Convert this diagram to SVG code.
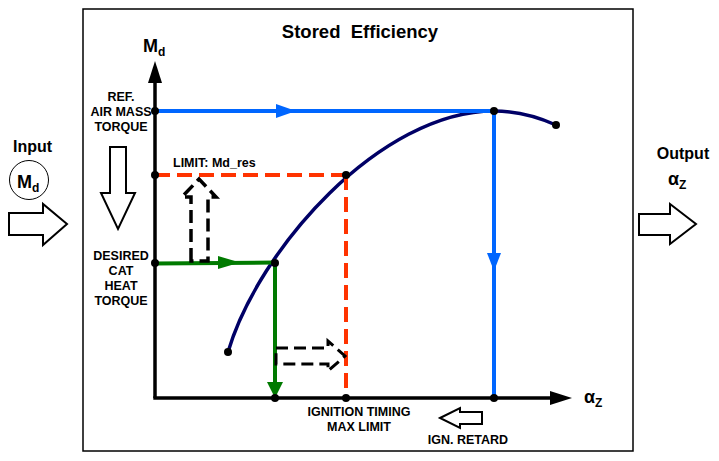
<svg xmlns="http://www.w3.org/2000/svg" width="719" height="461" viewBox="0 0 719 461">
<style>
text{font-family:"Liberation Sans",Arial,sans-serif;font-weight:bold;fill:#000}
.lbl{font-size:12.5px;text-anchor:middle}
.big{font-size:16px}
.hollow{fill:#fff;stroke:#000;stroke-width:2;stroke-linejoin:miter}
.dhollow{fill:none;stroke:#000;stroke-width:3.5;stroke-dasharray:13 6}
.dhollow2{fill:none;stroke:#000;stroke-width:3;stroke-dasharray:12 6}
.dot{fill:#000}
.blue{stroke:#0066ff;stroke-width:4;fill:none}
.green{stroke:#007a00;stroke-width:4;fill:none}
.red{stroke:#ff3300;stroke-width:4;fill:none;stroke-dasharray:15 7}
.axis{stroke:#000;stroke-width:3.5;fill:none}
</style>
<rect width="719" height="461" fill="#fff"/>
<g id="frame">
<rect x="83" y="9" width="550" height="442" fill="none" stroke="#000" stroke-width="1.5"/>
<text x="360" y="38" style="font-size:18.5px;text-anchor:middle" xml:space="preserve">Stored  Efficiency</text>
</g>
<g id="input">
<text x="32.5" y="152" class="big" text-anchor="middle">Input</text>
<circle cx="29" cy="180" r="19.5" fill="#fff" stroke="#000" stroke-width="1"/>
<text x="17" y="188" style="font-size:18px">M<tspan dy="4" style="font-size:12px">d</tspan></text>
<polygon class="hollow" points="9,213 43,213 43,204 67,224 43,245 43,235 9,235"/>
</g>
<g id="output">
<text x="683" y="158.5" class="big" text-anchor="middle">Output</text>
<text x="668" y="185" style="font-size:18px">α<tspan dy="4" style="font-size:12px">Z</tspan></text>
<polygon class="hollow" points="639,214 670,214 670,204 696,224 670,244 670,235 639,235"/>
</g>
<g id="axes">
<line class="axis" x1="155" y1="398" x2="155" y2="80"/>
<polygon points="148,83 155,61 162,83" fill="#000"/>
<line class="axis" x1="153.3" y1="398" x2="552" y2="398"/>
<polygon points="550,391 572,398 550,405" fill="#000"/>
<text x="143" y="52" style="font-size:18px">M<tspan dy="4" style="font-size:12px">d</tspan></text>
<text x="584" y="403" style="font-size:18px">α<tspan dy="4" style="font-size:12px">Z</tspan></text>
</g>
<g id="curve">
<path d="M228,352 C258,250 380,111 494,111 Q525,111 556,125" fill="none" stroke="#000066" stroke-width="3.5"/>
</g>
<g id="connectors">
<line class="red" x1="155" y1="175" x2="346" y2="175"/>
<line class="red" x1="346" y1="175" x2="346" y2="398"/>
<line class="blue" x1="155" y1="111" x2="494" y2="111"/>
<polygon points="276,104 296,111 276,118" fill="#0066ff"/>
<line class="blue" x1="494" y1="111" x2="494" y2="398"/>
<polygon points="487,253 494,271 501,253" fill="#0066ff"/>
<line class="green" x1="155" y1="263.5" x2="275" y2="262.5"/>
<polygon points="218,256 240,262.5 218,269" fill="#007a00"/>
<line class="green" x1="275" y1="263" x2="275" y2="385"/>
<polygon points="267,382 275,398 283,382" fill="#007a00"/>
<polygon class="dhollow" points="191,261 191,197 182,197 199,179 216,197 208,197 208,261"/>
<polygon class="dhollow2" points="276,348 328,348 328,341 345,356 328,371 328,364 276,364"/>
<polygon class="hollow" points="101,193 110,193 110,147 126,147 126,193 135,193 118,229"/>
<polygon class="hollow" points="440,418 460,408 460,412 482,412 482,424 460,424 460,428"/>
</g>
<g id="dots">
<circle class="dot" cx="155" cy="111" r="4"/>
<circle class="dot" cx="494" cy="111" r="4"/>
<circle class="dot" cx="556" cy="125" r="4"/>
<circle class="dot" cx="155" cy="175" r="4"/>
<circle class="dot" cx="346" cy="175" r="4"/>
<circle class="dot" cx="155" cy="263" r="4"/>
<circle class="dot" cx="275" cy="263" r="4"/>
<circle class="dot" cx="228" cy="352" r="4"/>
<circle class="dot" cx="275" cy="398" r="4"/>
<circle class="dot" cx="346" cy="398" r="4"/>
<circle class="dot" cx="494" cy="398" r="4"/>
</g>
<g id="labels">
<text class="lbl" x="121" y="101">REF.</text>
<text class="lbl" x="121" y="115.5">AIR MASS</text>
<text class="lbl" x="121" y="130.5">TORQUE</text>
<text x="173" y="167" style="font-size:12.5px">LIMIT: Md_res</text>
<text class="lbl" x="121" y="259.5">DESIRED</text>
<text class="lbl" x="121" y="274.5">CAT</text>
<text class="lbl" x="121" y="289.5">HEAT</text>
<text class="lbl" x="121" y="304.5">TORQUE</text>
<text class="lbl" x="359" y="416">IGNITION TIMING</text>
<text class="lbl" x="359" y="430.5">MAX LIMIT</text>
<text class="lbl" x="468" y="443.5">IGN. RETARD</text>
</g>
</svg>
